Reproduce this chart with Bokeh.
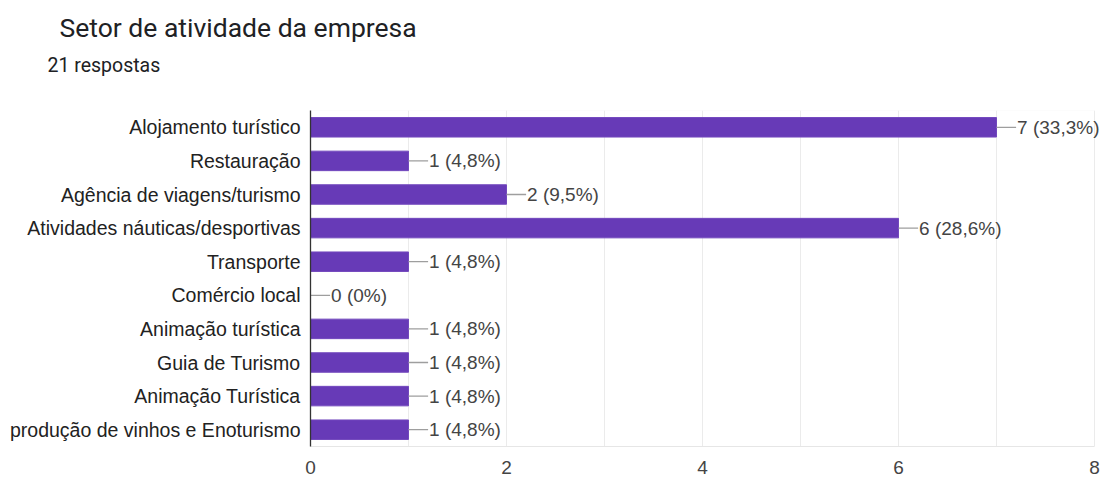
from bokeh.plotting import figure
from bokeh.models import ColumnDataSource, LabelSet, Title, FixedTicker, Range1d, FactorRange, BoxAnnotation
from bokeh.core.properties import value
from bokeh.embed import file_html
from bokeh.resources import INLINE

title_text = "Setor de atividade da empresa"
subtitle_text = "21 respostas"
categories = [
    "Alojamento turístico",
    "Restauração",
    "Agência de viagens/turismo",
    "Atividades náuticas/desportivas",
    "Transporte",
    "Comércio local",
    "Animação turística",
    "Guia de Turismo",
    "Animação Turística",
    "produção de vinhos e Enoturismo",
]
counts = [7, 1, 2, 6, 1, 0, 1, 1, 1, 1]
total_responses = 21
x_ticks = [0, 2, 4, 6, 8]
grid_ticks = [0, 1, 2, 3, 4, 5, 6, 7, 8]
x_max = 8


def fmt(c):
    s = f"{c / total_responses * 100:.1f}".replace(".", ",")
    if s.endswith(",0"):
        s = s[:-2]
    return f"{c} ({s}%)"


labels = [fmt(c) for c in counts]
lead = 0.2
src = ColumnDataSource(dict(
    cat=categories,
    count=counts,
    lead_end=[c + lead for c in counts],
    label=labels,
))

# frame: 0 -> 310px, 8 -> 1094px (98 px per unit); extended slightly so the top label is not clipped
p = figure(
    width=1104, height=477,
    y_range=FactorRange(factors=categories[::-1]),
    x_range=Range1d(0, x_max + 8 / 98),
    output_backend="svg", toolbar_location=None,
    min_border_left=310, min_border_right=2,
    min_border_top=110, min_border_bottom=31,
    title=None,
)
p.outline_line_color = None
p.add_layout(BoxAnnotation(left=0, right=x_max, fill_color=None,
                           line_color="#ebebeb", line_width=1, level="underlay"))

p.hbar(y="cat", left=0, right="count", height=0.58, fill_color="#673ab7",
       line_color="#7248bd", line_width=1, source=src)
p.segment(x0="count", x1="lead_end", y0="cat", y1="cat", line_color="#9e9e9e",
          line_width=1.3, source=src)
p.add_layout(LabelSet(x="lead_end", y="cat", text="label", source=src, x_offset=1,
                      text_baseline="middle", text_align="left",
                      text_font=value("Liberation Sans"), text_font_size=value("19px"),
                      text_color="#444444"))

p.yaxis.major_label_text_font = "Liberation Sans"
p.yaxis.major_label_text_font_size = "19.5px"
p.yaxis.major_label_text_color = "#222222"
p.yaxis.axis_line_color = "#333333"
p.yaxis.axis_line_width = 1.3
p.yaxis.major_tick_line_color = None
p.yaxis.minor_tick_line_color = None
p.yaxis.major_label_standoff = 4

p.xaxis.ticker = FixedTicker(ticks=x_ticks)
p.xaxis.bounds = (0, x_max)
p.xaxis.major_label_text_font = "Liberation Sans"
p.xaxis.major_label_text_font_size = "19px"
p.xaxis.major_label_text_color = "#444444"
p.xaxis.axis_line_color = "#e6e6e6"
p.xaxis.major_tick_line_color = None
p.xaxis.minor_tick_line_color = None
p.xaxis.major_label_standoff = 8

p.xgrid.ticker = FixedTicker(ticks=grid_ticks)
p.xgrid.grid_line_color = "#ebebeb"
p.ygrid.grid_line_color = None

# spacer between the frame and the subtitle
p.add_layout(Title(text=" ", text_font="Roboto", text_font_size="19.5px",
                   text_font_style="normal", align="left", standoff=9), "above")
p.add_layout(Title(text=subtitle_text, text_font="Roboto", text_font_size="19.5px",
                   text_font_style="normal", text_color="#202124", align="left",
                   offset=-263, standoff=0), "above")
p.add_layout(Title(text=title_text, text_font="Roboto", text_font_size="26.5px",
                   text_font_style="normal", text_color="#202124", align="left",
                   offset=-251, standoff=17), "above")

open("out.html", "w").write(file_html(p, INLINE))
